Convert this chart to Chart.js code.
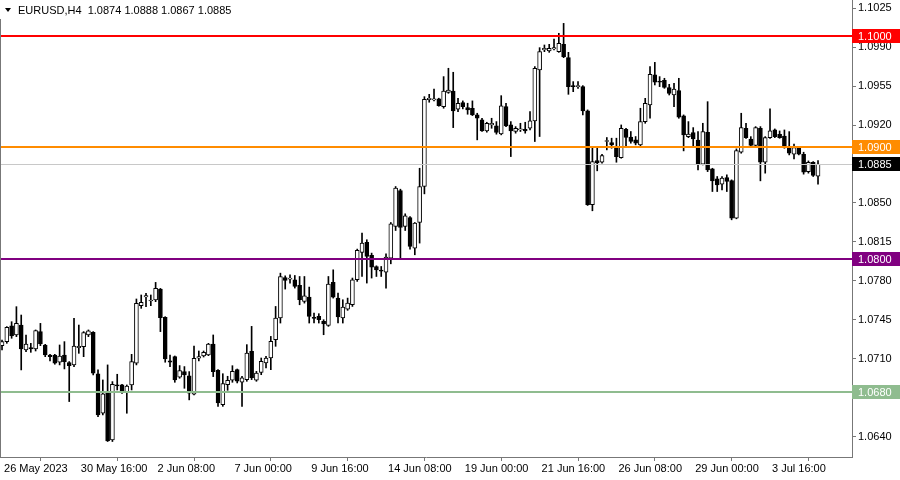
<!DOCTYPE html>
<html>
<head>
<meta charset="utf-8">
<script src="https://cdn.jsdelivr.net/npm/chart.js@4.4.1/dist/chart.umd.min.js"></script>
<style>
  html, body { margin: 0; padding: 0; background: #fff; }
  #wrap { width: 900px; height: 480px; }
</style>
</head>
<body>
<div id="wrap"><canvas id="chart" width="900" height="480"></canvas></div>
<script>
// EURUSD H4, one entry per bar starting 26 May 2023 00:00
const open = [
  1.07219, 1.07255, 1.07398, 1.07315, 1.07404, 1.07180, 1.07201, 1.07189, 1.07345, 1.07225,
  1.07135, 1.07135, 1.07070, 1.07135, 1.07067, 1.07046, 1.07201, 1.07210, 1.07315, 1.07339,
  1.06965, 1.06612, 1.06792, 1.06373, 1.06866, 1.06866, 1.06800, 1.06866, 1.07061, 1.07578,
  1.07656, 1.07620, 1.07629, 1.07727, 1.07473, 1.07082, 1.07120, 1.06935, 1.06986, 1.06947,
  1.06783, 1.07106, 1.07126, 1.07135, 1.07234, 1.06997, 1.06689, 1.06869, 1.06908, 1.07003,
  1.06890, 1.06914, 1.07168, 1.06908, 1.06979, 1.07063, 1.07108, 1.07272, 1.07467, 1.07831,
  1.07817, 1.07811, 1.07760, 1.07616, 1.07655, 1.07473, 1.07482, 1.07437, 1.07401, 1.07787,
  1.07646, 1.07467, 1.07547, 1.07586, 1.07811, 1.08056, 1.08146, 1.08029, 1.07930, 1.07894,
  1.07879, 1.08005, 1.08289, 1.08612, 1.08289, 1.08370, 1.08095, 1.08325, 1.08648, 1.09429,
  1.09426, 1.09435, 1.09366, 1.09494, 1.09506, 1.09342, 1.09402, 1.09357, 1.09351, 1.09291,
  1.09246, 1.09148, 1.09201, 1.09192, 1.09121, 1.09366, 1.09201, 1.09142, 1.09156, 1.09162,
  1.09171, 1.09237, 1.09695, 1.09874, 1.09865, 1.09883, 1.09859, 1.09925, 1.09805, 1.09551,
  1.09545, 1.09545, 1.09327, 1.08484, 1.08881, 1.08866, 1.09052, 1.09043, 1.08998, 1.08908,
  1.09162, 1.09091, 1.09067, 1.09022, 1.09231, 1.09380, 1.09650, 1.09590, 1.09602, 1.09536,
  1.09470, 1.09509, 1.09282, 1.09096, 1.09132, 1.09066, 1.08848, 1.09135, 1.08806, 1.08717,
  1.08669, 1.08729, 1.08702, 1.08364, 1.08956, 1.09171, 1.09075, 1.09016, 1.09171, 1.08866,
  1.09087, 1.09156, 1.09117, 1.09102, 1.09007, 1.08938, 1.08992, 1.08938, 1.08782, 1.08866,
  1.0874
];
const high = [
  1.07270, 1.07390, 1.07434, 1.07569, 1.07494, 1.07315, 1.07240, 1.07360, 1.07419, 1.07231,
  1.07141, 1.07141, 1.07225, 1.07255, 1.07076, 1.07464, 1.07404, 1.07345, 1.07360, 1.07345,
  1.07001, 1.06911, 1.07046, 1.06896, 1.06962, 1.06872, 1.06866, 1.07141, 1.07638, 1.07674,
  1.07689, 1.07674, 1.07787, 1.07733, 1.07479, 1.07135, 1.07126, 1.07040, 1.07031, 1.06986,
  1.07216, 1.07171, 1.07171, 1.07240, 1.07315, 1.07003, 1.06967, 1.06944, 1.07039, 1.07009,
  1.06944, 1.07228, 1.07392, 1.06988, 1.07108, 1.07123, 1.07302, 1.07571, 1.07870, 1.07846,
  1.07855, 1.07849, 1.07840, 1.07840, 1.07745, 1.07512, 1.07506, 1.07452, 1.07840, 1.07900,
  1.07691, 1.07631, 1.07646, 1.07826, 1.08086, 1.08229, 1.08170, 1.08050, 1.07936, 1.07930,
  1.08044, 1.08325, 1.08648, 1.08624, 1.08403, 1.08379, 1.08325, 1.08812, 1.09455, 1.09476,
  1.09524, 1.09441, 1.09635, 1.09710, 1.09674, 1.09441, 1.09417, 1.09396, 1.09417, 1.09306,
  1.09261, 1.09225, 1.09261, 1.09231, 1.09464, 1.09396, 1.09231, 1.09186, 1.09216, 1.09225,
  1.09321, 1.09725, 1.09895, 1.09919, 1.09925, 1.09973, 1.10024, 1.10113, 1.09853, 1.09590,
  1.09590, 1.09554, 1.09336, 1.08992, 1.08992, 1.08938, 1.09088, 1.09082, 1.09082, 1.09201,
  1.09171, 1.09142, 1.09097, 1.09351, 1.09440, 1.09724, 1.09763, 1.09635, 1.09620, 1.09566,
  1.09575, 1.09620, 1.09291, 1.09231, 1.09177, 1.09141, 1.09216, 1.09410, 1.08812, 1.08738,
  1.08738, 1.08753, 1.08708, 1.08986, 1.09306, 1.09216, 1.09096, 1.09186, 1.09186, 1.09096,
  1.09345, 1.09165, 1.09147, 1.09156, 1.09141, 1.09028, 1.08998, 1.08956, 1.08878, 1.08872,
  1.0888
];
const low = [
  1.07180, 1.07240, 1.07285, 1.07300, 1.07001, 1.07165, 1.07159, 1.07171, 1.07219, 1.07120,
  1.07082, 1.07052, 1.07046, 1.07010, 1.06717, 1.07031, 1.07150, 1.07120, 1.07300, 1.06956,
  1.06582, 1.06597, 1.06358, 1.06358, 1.06821, 1.06791, 1.06612, 1.06821, 1.07046, 1.07554,
  1.07569, 1.07578, 1.07614, 1.07345, 1.07070, 1.07031, 1.06890, 1.06926, 1.06836, 1.06732,
  1.06777, 1.07082, 1.07117, 1.07129, 1.06941, 1.06674, 1.06674, 1.06818, 1.06890, 1.06884,
  1.06674, 1.06899, 1.06914, 1.06899, 1.06958, 1.07018, 1.07003, 1.07213, 1.07422, 1.07727,
  1.07781, 1.07736, 1.07586, 1.07601, 1.07422, 1.07422, 1.07422, 1.07317, 1.07392, 1.07646,
  1.07422, 1.07422, 1.07536, 1.07571, 1.07796, 1.07840, 1.07781, 1.07826, 1.07840, 1.07840,
  1.07736, 1.07954, 1.08253, 1.08002, 1.08253, 1.08086, 1.08035, 1.08140, 1.08582, 1.09405,
  1.09417, 1.09369, 1.09351, 1.09485, 1.09177, 1.09321, 1.09345, 1.09297, 1.09285, 1.09067,
  1.09142, 1.09136, 1.09171, 1.09118, 1.09112, 1.09186, 1.08917, 1.09127, 1.09142, 1.09127,
  1.09156, 1.09052, 1.09097, 1.09859, 1.09853, 1.09874, 1.09853, 1.09805, 1.09476, 1.09500,
  1.09530, 1.09291, 1.08478, 1.08430, 1.08789, 1.08857, 1.08977, 1.08992, 1.08866, 1.08902,
  1.09007, 1.09037, 1.09022, 1.09007, 1.09216, 1.09261, 1.09560, 1.09545, 1.09530, 1.09470,
  1.09366, 1.09261, 1.08968, 1.09087, 1.08998, 1.08797, 1.08842, 1.08782, 1.08603, 1.08603,
  1.08618, 1.08603, 1.08349, 1.08358, 1.08947, 1.09081, 1.09007, 1.09007, 1.08699, 1.08768,
  1.09081, 1.09087, 1.09081, 1.08992, 1.08932, 1.08896, 1.08932, 1.08759, 1.08768, 1.08738,
  1.0867
];
const close = [
  1.07255, 1.07384, 1.07306, 1.07419, 1.07189, 1.07234, 1.07189, 1.07354, 1.07234, 1.07135,
  1.07120, 1.07061, 1.07126, 1.07076, 1.07040, 1.07216, 1.07213, 1.07336, 1.07351, 1.06971,
  1.06597, 1.06786, 1.06364, 1.06872, 1.06857, 1.06800, 1.06857, 1.07076, 1.07599, 1.07608,
  1.07668, 1.07629, 1.07733, 1.07470, 1.07100, 1.07070, 1.06911, 1.06995, 1.06956, 1.06792,
  1.07106, 1.07120, 1.07159, 1.07234, 1.06986, 1.06704, 1.06878, 1.06908, 1.06988, 1.06899,
  1.06929, 1.07153, 1.06929, 1.06973, 1.07078, 1.07108, 1.07258, 1.07467, 1.07840, 1.07805,
  1.07826, 1.07751, 1.07631, 1.07667, 1.07482, 1.07464, 1.07452, 1.07413, 1.07772, 1.07655,
  1.07476, 1.07565, 1.07601, 1.07811, 1.08074, 1.08140, 1.08020, 1.07924, 1.07900, 1.07888,
  1.08014, 1.08313, 1.08633, 1.08280, 1.08385, 1.08110, 1.08319, 1.08648, 1.09431, 1.09441,
  1.09432, 1.09375, 1.09506, 1.09515, 1.09327, 1.09396, 1.09366, 1.09336, 1.09291, 1.09261,
  1.09148, 1.09216, 1.09216, 1.09133, 1.09372, 1.09192, 1.09148, 1.09171, 1.09162, 1.09148,
  1.09237, 1.09710, 1.09859, 1.09889, 1.09889, 1.09895, 1.09934, 1.09814, 1.09545, 1.09545,
  1.09551, 1.09327, 1.08484, 1.08872, 1.08860, 1.08926, 1.09058, 1.09022, 1.08917, 1.09171,
  1.09088, 1.09052, 1.09037, 1.09231, 1.09395, 1.09656, 1.09584, 1.09584, 1.09539, 1.09485,
  1.09524, 1.09270, 1.09111, 1.09120, 1.09075, 1.08851, 1.09141, 1.08797, 1.08699, 1.08663,
  1.08723, 1.08693, 1.08364, 1.08971, 1.09177, 1.09087, 1.09016, 1.09177, 1.08866, 1.09087,
  1.09147, 1.09096, 1.09087, 1.09007, 1.08947, 1.08998, 1.08938, 1.08776, 1.08866, 1.08747,
  1.0885
];

// one time label every 16 bars
const timeLabels = ['26 May 2023', '30 May 16:00', '2 Jun 08:00', '7 Jun 00:00', '9 Jun 16:00',
  '14 Jun 08:00', '19 Jun 00:00', '21 Jun 16:00', '26 Jun 08:00', '29 Jun 00:00', '3 Jul 16:00'];
const labelStep = 16;

const priceTicks = [1.1025, 1.0990, 1.0955, 1.0920, 1.0885, 1.0850, 1.0815, 1.0780, 1.0745, 1.0710, 1.0640];

const levelValues = [1.1000, 1.0900, 1.0800, 1.0680];
const levelColors = ['#ff0000', '#ff8c00', '#800080', '#8fbc8f'];
const bidPrice = 1.0885;

const title = 'EURUSD,H4  1.0874 1.0888 1.0867 1.0885';

const FONT = 'Liberation Sans, Arial, sans-serif';
const tickFont = { family: FONT, size: 11 };

const bodies = open.map((o, i) => ({ x: i, y: [o, close[i]] }));
const wicks = low.map((l, i) => ({ x: i, y: [l, high[i]] }));
const bodyFill = open.map((o, i) => (close[i] >= o ? '#ffffff' : '#000000'));

const overlay = {
  id: 'overlay',
  afterDatasetsDraw(chart) {
    const { ctx, chartArea: a, scales: { y } } = chart;
    ctx.save();
    // bid line
    let py = Math.round(y.getPixelForValue(bidPrice)) + 0.5;
    ctx.strokeStyle = '#c8c8c8';
    ctx.lineWidth = 1;
    ctx.beginPath(); ctx.moveTo(a.left, py); ctx.lineTo(a.right, py); ctx.stroke();
    levelValues.forEach((v, k) => {
      const p = Math.round(y.getPixelForValue(v));
      ctx.strokeStyle = levelColors[k];
      ctx.lineWidth = 2;
      ctx.beginPath(); ctx.moveTo(a.left, p); ctx.lineTo(a.right, p); ctx.stroke();
    });
    // left frame edge
    ctx.strokeStyle = '#777';
    ctx.lineWidth = 1;
    ctx.beginPath(); ctx.moveTo(a.left + 0.5, 19); ctx.lineTo(a.left + 0.5, a.bottom); ctx.stroke();
    ctx.restore();
  },
  afterDraw(chart) {
    const { ctx, chartArea: a, scales: { y } } = chart;
    ctx.save();
    ctx.font = '11px ' + FONT;
    ctx.textBaseline = 'middle';
    const tag = (v, bg) => {
      const p = Math.round(y.getPixelForValue(v));
      ctx.fillStyle = bg;
      ctx.fillRect(a.right, p - 7, 48, 14);
      ctx.fillStyle = '#ffffff';
      ctx.fillText(v.toFixed(4), a.right + 6, p + 0.5);
    };
    levelValues.forEach((v, k) => tag(v, levelColors[k]));
    tag(bidPrice, '#000000');
    // title
    ctx.fillStyle = '#000';
    ctx.beginPath(); ctx.moveTo(5, 8); ctx.lineTo(11, 8); ctx.lineTo(8, 12); ctx.closePath(); ctx.fill();
    ctx.fillText(title, 18, 11);
    ctx.restore();
  }
};

new Chart(document.getElementById('chart'), {
  type: 'bar',
  data: {
    datasets: [
      {
        data: bodies,
        backgroundColor: bodyFill,
        borderColor: '#000000',
        borderWidth: 1,
        borderSkipped: false,
        barThickness: 4,
        minBarLength: 1,
        grouped: false,
        order: 1
      },
      {
        data: wicks,
        backgroundColor: '#000000',
        borderWidth: 0,
        barThickness: 1,
        grouped: false,
        order: 2
      }
    ]
  },
  options: {
    responsive: false,
    devicePixelRatio: 1,
    animation: false,
    layout: { padding: 0 },
    plugins: { legend: { display: false }, tooltip: { enabled: false } },
    scales: {
      x: {
        type: 'linear',
        min: -0.42,
        max: 177.08,
        offset: false,
        afterBuildTicks: s => { s.ticks = timeLabels.map((t, k) => ({ value: k * labelStep })); },
        afterFit: s => { s.height = 23; s.paddingLeft = 0; s.paddingRight = 0; },
        ticks: {
          callback: (v, k) => timeLabels[k],
          align: 'start',
          labelOffset: 2,
          padding: 1,
          autoSkip: false,
          maxRotation: 0,
          color: '#000',
          font: tickFont
        },
        grid: { drawOnChartArea: false, drawTicks: true, tickLength: 4, color: '#777' },
        border: { color: '#777' }
      },
      y: {
        position: 'right',
        min: 1.06219,
        max: 1.10323,
        afterBuildTicks: s => { s.ticks = priceTicks.map(v => ({ value: v })); },
        afterFit: s => { s.width = 48; s.paddingTop = 0; s.paddingBottom = 0; },
        ticks: {
          callback: v => v.toFixed(4),
          padding: 2,
          autoSkip: false,
          color: '#000',
          font: tickFont
        },
        grid: { drawOnChartArea: false, drawTicks: true, tickLength: 4, color: '#777' },
        border: { color: '#777' }
      }
    }
  },
  plugins: [overlay]
});
</script>
</body>
</html>
